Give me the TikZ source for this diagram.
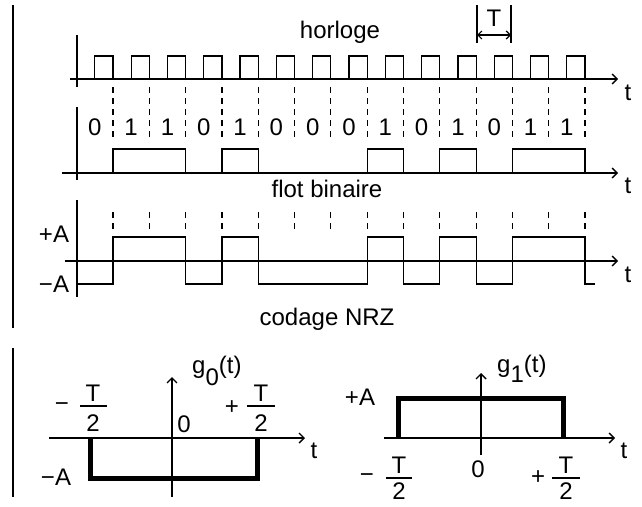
\documentclass[tikz,border=0pt]{standalone}
\usepackage{fontspec}
\setmainfont{Liberation Sans}
\usetikzlibrary{arrows.meta}
\begin{document}
\begin{tikzpicture}[x=1pt,y=-1pt,
  thinline/.style={line width=1.2pt},
  axis/.style={line width=1.2pt,-{Straight Barb[length=5pt,width=10pt,line width=1.4pt]}},
  lbl/.style={font=\fontsize{24}{24}\selectfont, inner sep=0pt, anchor=base},
  sgn/.style={font=\fontsize{24}{24}\selectfont, inner sep=0pt, anchor=center},
  sep/.style={line width=1.2pt, dash pattern=on 6pt off 5pt},
  thickpulse/.style={line width=5pt, line join=miter},
  leftbar/.style={line width=2.2pt}]
\useasboundingbox (0,0) rectangle (642,506);

% left bars
\draw[leftbar] (13,5) -- (13,328);
\draw[leftbar] (13,348) -- (13,497);

% ---------- clock ----------
\coordinate (c0) at (70,79);
\coordinate (c1) at (618,79);
\draw[axis] (c0) -- (c1);
\draw[thinline] (77,35) -- (77,87);
\foreach \k in {1,...,14}{
  \pgfmathsetmacro\xa{76.7+36.31*(\k-1)+18.15}
  \pgfmathsetmacro\xb{76.7+36.31*\k}
  \draw[thinline] (\xa,79) -- (\xa,56) -- (\xb,56) -- (\xb,79);
}
\node[lbl] (horl) at (340,38) {horloge};
\node[lbl] (tc) at (628,100) {t};
% T marker
\draw[thinline] (477,5) -- (477,43);
\draw[thinline] (511,5) -- (511,43);
\draw[thinline,{Straight Barb[length=4pt,width=8pt]}-{Straight Barb[length=4pt,width=8pt]}] (477,35) -- (511,35);
\node[lbl] (Tm) at (494,27) {T};

% ---------- bit stream ----------
\foreach \k in {1,...,14}{
  \pgfmathsetmacro\xb{76.7+36.31*\k}
  \draw[sep] (\xb,87) -- (\xb,140);
  \draw[sep] (\xb,212) -- (\xb,230);
}
\foreach \b [count=\k] in {0,1,1,0,1,0,0,0,1,0,1,0,1,1}{
  \pgfmathsetmacro\xc{76.7+36.31*(\k-0.5)}
  \node[lbl] (d\k) at (\xc,135) {\b};
}
\draw[axis] (62,173) -- (618,173);
\draw[thinline] (77,107) -- (77,180);
\draw[thinline] (113,173) -- (113,149) -- (185.6,149) -- (185.6,173);
\draw[thinline] (221.9,173) -- (221.9,149) -- (258.3,149) -- (258.3,173);
\draw[thinline] (367.2,173) -- (367.2,149) -- (403.5,149) -- (403.5,173);
\draw[thinline] (439.8,173) -- (439.8,149) -- (476.1,149) -- (476.1,173);
\draw[thinline] (512.4,173) -- (512.4,149) -- (585,149) -- (585,173);
\node[lbl] (flot) at (327,197) {flot binaire};
\node[lbl] (tb) at (628,193) {t};

% ---------- NRZ ----------
\draw[axis] (65,261) -- (618,261);
\draw[thinline] (77,200) -- (77,297);
\draw[thinline] (77,284) -- (113,284) -- (113,237) -- (185.6,237) -- (185.6,284)
  -- (221.9,284) -- (221.9,237) -- (258.3,237) -- (258.3,284)
  -- (367.2,284) -- (367.2,237) -- (403.5,237) -- (403.5,284)
  -- (439.8,284) -- (439.8,237) -- (476.1,237) -- (476.1,284)
  -- (512.4,284) -- (512.4,237) -- (585,237) -- (585,284) -- (595,284);
\node[lbl] (pA) at (54,242) {+A};
\node[lbl] (mA) at (54,292) {−A};
\node[lbl] (tn) at (628,282) {t};
\node[lbl] (nrz) at (327,325) {codage NRZ};

% ---------- g0 ----------
\draw[axis] (49,438) -- (305,438);
\draw[axis] (172,497) -- (172,377);
\draw[thickpulse] (90,438) -- (90,478) -- (257,478) -- (257,438);
\node[lbl] (g0) at (192,373) [anchor=base west] {g\raisebox{-12pt}{0}(t)};
\node[lbl] (z0) at (184,432) {0};
\node[lbl] (tg0) at (314,458) {t};
\node[lbl] (mA0) at (56,485) {−A};
\node[sgn] (m0) at (62,407) {−};
\node[lbl] (T0a) at (93,401) {T};
\draw[thinline] (80,406) -- (107,406);
\node[lbl] (T0b) at (93,431) {2};
\node[sgn] (p0) at (232,408) {+};
\node[lbl] (T0c) at (261,401) {T};
\draw[thinline] (247,406) -- (275,406);
\node[lbl] (T0d) at (261,431) {2};

% ---------- g1 ----------
\draw[axis] (384,438) -- (615,438);
\draw[axis] (481,455) -- (481,373);
\draw[thickpulse] (398,438) -- (398,398) -- (563,398) -- (563,438);
\node[lbl] (g1) at (497,372) [anchor=base west] {g\raisebox{-10pt}{1}(t)};
\node[lbl] (pA1) at (360,405) {+A};
\node[lbl] (z1) at (478,477) {0};
\node[lbl] (tg1) at (624,458) {t};
\node[sgn] (m1) at (367,478) {−};
\node[lbl] (T1a) at (399,473) {T};
\draw[thinline] (386,478) -- (412,478);
\node[lbl] (T1b) at (399,499) {2};
\node[sgn] (p1) at (538,478) {+};
\node[lbl] (T1c) at (566,473) {T};
\draw[thinline] (552,478) -- (580,478);
\node[lbl] (T1d) at (566,499) {2};
\end{tikzpicture}
\end{document}
